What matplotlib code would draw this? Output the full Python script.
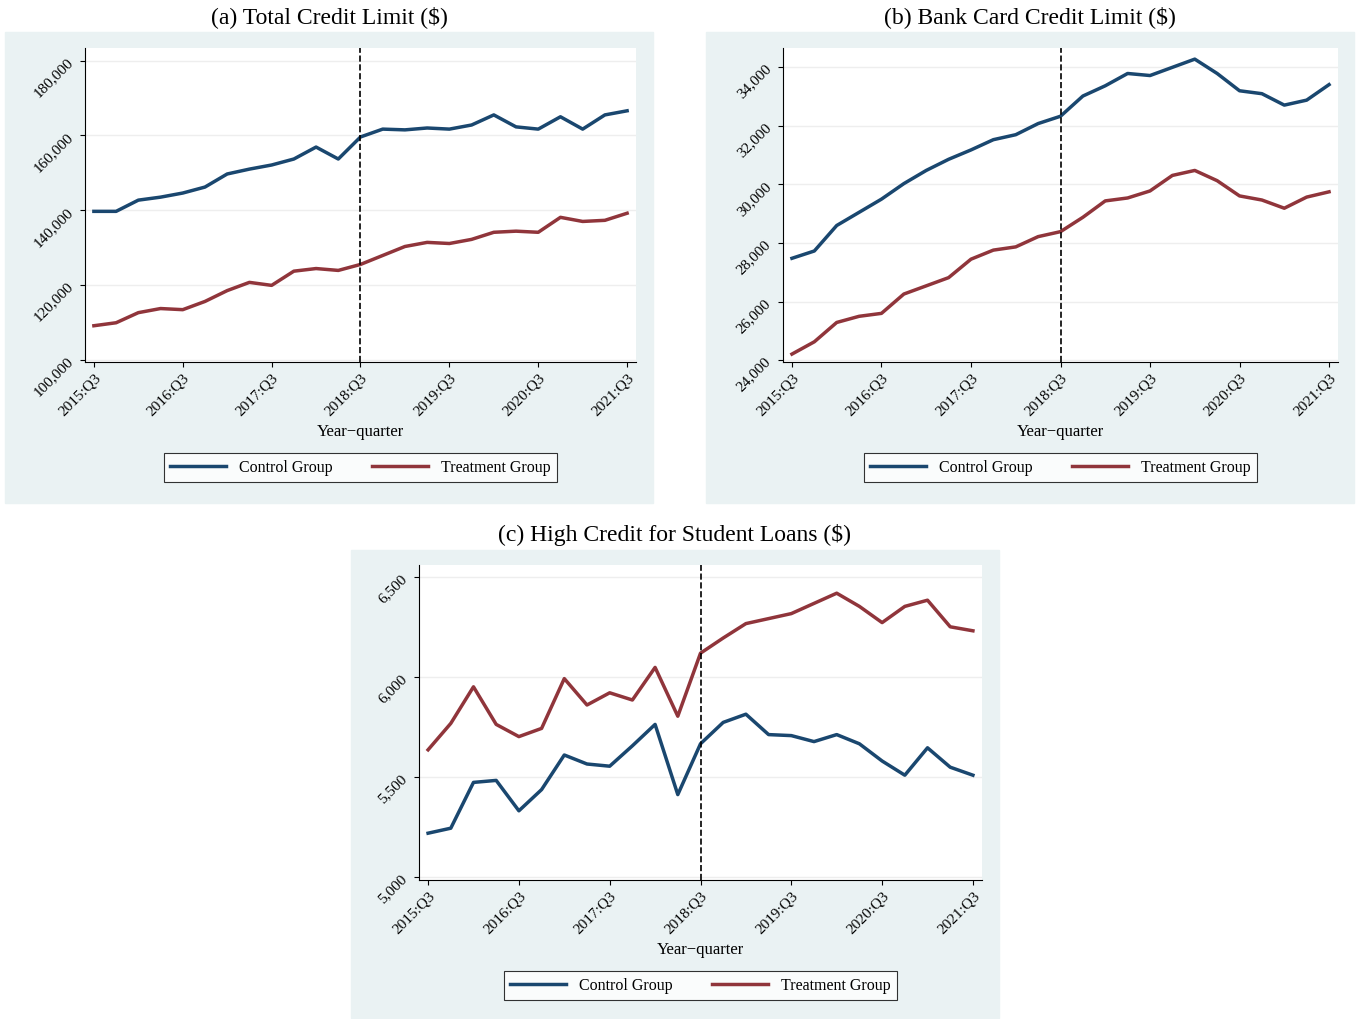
import matplotlib.pyplot as plt
import numpy as np
from matplotlib.patches import Rectangle

plt.rcParams["font.family"] = ["Liberation Serif", "DejaVu Serif"]

quarters = [f"{2015 + (i + 2) // 4}:Q{(i + 2) % 4 + 1}" for i in range(25)]
tick_idx = list(range(0, 25, 4))

total_control = [139700, 139700, 142700, 143500, 144600, 146200, 149700, 151000, 152100, 153700,
                 156900, 153700, 159600, 161700, 161500, 162000, 161700, 162800, 165500, 162300,
                 161700, 165000, 161700, 165500, 166600]
total_treat = [109100, 109900, 112600, 113700, 113400, 115600, 118500, 120700, 119900, 123700,
               124400, 123900, 125500, 127900, 130300, 131400, 131100, 132200, 134100, 134400,
               134100, 138100, 137000, 137300, 139200]
bank_control = [27480, 27730, 28600, 29050, 29500, 30030, 30480, 30860, 31180, 31530, 31700,
                32080, 32330, 33020, 33370, 33790, 33720, 34000, 34280, 33790, 33200, 33100,
                32710, 32880, 33410]
bank_treat = [24210, 24630, 25290, 25500, 25600, 26260, 26540, 26820, 27450, 27760, 27870,
              28220, 28390, 28880, 29440, 29540, 29780, 30310, 30480, 30130, 29610, 29470,
              29190, 29570, 29750]
student_control = [5219, 5244, 5473, 5483, 5331, 5437, 5610, 5565, 5554, 5656, 5763, 5412, 5666,
                   5773, 5814, 5712, 5707, 5677, 5712, 5666, 5580, 5509, 5646, 5549, 5509]
student_treat = [5636, 5768, 5951, 5763, 5702, 5743, 5992, 5860, 5921, 5885, 6048, 5804, 6119,
                 6195, 6267, 6292, 6317, 6368, 6419, 6353, 6272, 6353, 6384, 6251, 6231]

panels = [
    ("(a) Total Credit Limit ($)", total_control, total_treat, np.arange(100000, 180001, 20000),
     0.17, (5, 32, 653, 503), (85, 48, 636, 362)),
    ("(b) Bank Card Credit Limit ($)", bank_control, bank_treat, np.arange(24000, 34001, 2000),
     0.33, (706, 32, 1354, 503), (783, 48, 1338, 362)),
    ("(c) High Credit for Student Loans ($)", student_control, student_treat,
     np.arange(5000, 6501, 500), 0.12, (351, 550, 999, 1018), (419, 565, 982, 880)),
]

W, H = 1356, 1019
fig = plt.figure(figsize=(W / 100, H / 100), dpi=100)
bg = "#eaf2f3"
blue = "#1a476f"
red = "#90353b"

for title, ctrl, treat, yt, top, (bx0, by0, bx1, by1), (ax0, ay0, ax1, ay1) in panels:
    fig.patches.append(Rectangle((bx0 / W, 1 - by1 / H), (bx1 - bx0) / W, (by1 - by0) / H,
                                 transform=fig.transFigure, color=bg, zorder=-5))
    fig.text((bx0 + bx1) / 2 / W, 1 - (by0 - 15) / H, title, ha="center", va="center", fontsize=17)
    ax = fig.add_axes([ax0 / W, 1 - ay1 / H, (ax1 - ax0) / W, (ay1 - ay0) / H], zorder=2)
    x = np.arange(25)
    ax.plot(x, ctrl, color=blue, lw=2.5, label="Control Group")
    ax.plot(x, treat, color=red, lw=2.5, label="Treatment Group")
    ax.axvline(12, color="black", ls="--", lw=1.2)
    ax.set_xlim(-0.4, 24.4)
    step = yt[1] - yt[0]
    ax.set_ylim(yt[0] - step * 0.03, yt[-1] + step * top)
    ax.set_yticks(yt)
    ax.set_yticklabels([f"{v:,}" for v in yt], rotation=45, fontsize=11)
    ax.set_xticks(tick_idx)
    ax.set_xticklabels([quarters[i] for i in tick_idx], rotation=45, ha="right",
                       rotation_mode="anchor", fontsize=11)
    ax.grid(axis="y", color="#eeeeee", lw=1)
    ax.set_axisbelow(True)
    for s in ("top", "right"):
        ax.spines[s].set_visible(False)
    ax.set_xlabel("Year\u2212quarter", fontsize=12, labelpad=4)
    leg = ax.legend(loc="upper center", bbox_to_anchor=(0.5, -0.265), ncol=2, fontsize=11.5,
                    fancybox=False, edgecolor="black", handlelength=3.5, columnspacing=2.5)
    leg.get_frame().set_linewidth(0.8)

fig.savefig("out.png", dpi=100)
